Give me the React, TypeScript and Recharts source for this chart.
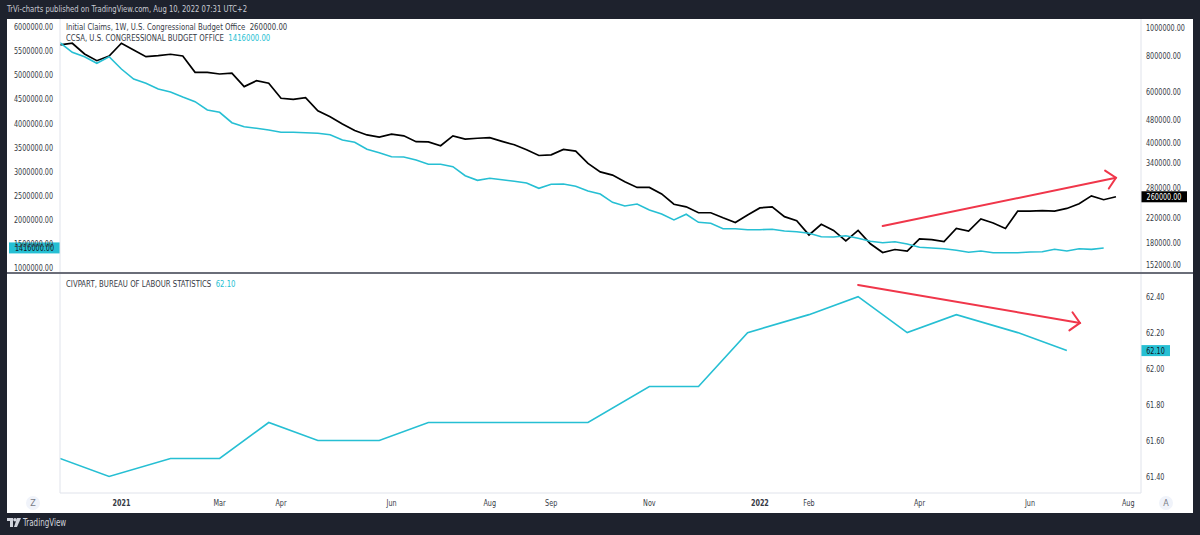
import { LineChart, Line, XAxis, YAxis, ReferenceLine } from "recharts";

const FONT = "'DejaVu Sans', sans-serif";
const SX = 0.68;
const BG = "#1e222d";
const CYAN = "#26bfd3";
const RED = "#f0364a";
const TEXT = "#363a45";

// x = weekly bar index, 0 = week of 2021-01-04 (bars start on Monday)
const START = Date.UTC(2021, 0, 4);
const WEEK = 7 * 86400000;
function weekIdx(d: string) {
  const [y, m, dd] = d.split("-").map(Number);
  return Math.floor((Date.UTC(y, m - 1, dd) - START) / WEEK);
}

const claimsStart = "2020-11-30";
const claimsValues = [
  869000, 881000, 809000, 767000, 796000, 881000, 835000, 792000, 798000, 807000,
  796000, 699000, 699000, 690000, 695000, 624000, 654000, 641000, 569000, 564000,
  572000, 515000, 491000, 464000, 440000, 425000, 418000, 428000, 422000, 403000,
  402000, 390000, 422000, 411000, 414000, 416000, 404000, 393000, 378000, 361000,
  363000, 379000, 374000, 339000, 317000, 309000, 293000, 280000, 280000, 266000,
  245000, 240000, 229000, 229000, 220000, 212000, 225000, 238000, 240000, 222000,
  215000, 192000, 209000, 199000, 183000, 199000, 179000, 167000, 171000, 169000,
  186000, 185000, 182000, 202000, 198000, 218000, 211000, 202000, 232000, 232000,
  233000, 232000, 237000, 246000, 262000, 254000, 260000,
];

const ccsaStart = "2020-11-30";
const ccsaValues = [
  5668000, 5469000, 5378000, 5242000, 5378000, 5123000, 4916000, 4827000, 4709000, 4647000,
  4543000, 4446000, 4274000, 4226000, 4011000, 3928000, 3895000, 3859000, 3812000, 3812000,
  3804000, 3791000, 3762000, 3652000, 3605000, 3460000, 3389000, 3306000, 3300000, 3238000,
  3149000, 3149000, 3099000, 2913000, 2817000, 2859000, 2830000, 2797000, 2761000, 2651000,
  2734000, 2741000, 2693000, 2596000, 2533000, 2361000, 2285000, 2326000, 2202000, 2119000,
  1995000, 2113000, 1947000, 1926000, 1814000, 1814000, 1794000, 1794000, 1802000, 1767000,
  1752000, 1719000, 1649000, 1642000, 1669000, 1615000, 1553000, 1524000, 1545000, 1497000,
  1429000, 1414000, 1400000, 1367000, 1325000, 1352000, 1317000, 1317000, 1317000, 1332000,
  1338000, 1387000, 1352000, 1400000, 1387000, 1416000,
];

const civpartMonths = [
  "2020-12-01", "2021-01-01", "2021-02-01", "2021-03-01", "2021-04-01", "2021-05-01",
  "2021-06-01", "2021-07-01", "2021-08-01", "2021-09-01", "2021-10-01", "2021-11-01",
  "2021-12-01", "2022-01-01", "2022-02-01", "2022-03-01", "2022-04-01", "2022-05-01",
  "2022-06-01", "2022-07-01",
];
const civpartValues = [
  61.5, 61.4, 61.5, 61.5, 61.7, 61.6, 61.6, 61.7, 61.7, 61.7, 61.7, 61.9, 61.9, 62.2,
  62.3, 62.4, 62.2, 62.3, 62.2, 62.1,
];

const tickDates = [
  "2021-01-04", "2021-03-01", "2021-04-05", "2021-06-07", "2021-08-02", "2021-09-06",
  "2021-11-01", "2022-01-03", "2022-01-31", "2022-04-04", "2022-06-06", "2022-08-01",
];
const tickLabels = ["2021", "Mar", "Apr", "Jun", "Aug", "Sep", "Nov", "2022", "Feb", "Apr", "Jun", "Aug"];

const claimsTicks = [152000, 180000, 220000, 280000, 340000, 400000, 480000, 600000, 800000, 1000000];
const ccsaTicks = [1000000, 1500000, 2000000, 2500000, 3000000, 3500000, 4000000, 4500000, 5000000, 5500000, 6000000];
const civpartTicks = [61.4, 61.6, 61.8, 62.0, 62.2, 62.4];

// drawn arrows (annotations): [week index, value]
const upArrow = [[62, 206000], [81, 302600]];
const downArrow = [[60, 62.465], [78.07, 62.254]];

const claimsData = claimsValues.map((v, k) => ({ i: weekIdx(claimsStart) + k, v }));
const ccsaData = ccsaValues.map((v, k) => ({ i: weekIdx(ccsaStart) + k, v }));
const civpartData = civpartMonths.map((d, k) => ({ i: weekIdx(d), v: civpartValues[k] }));
const xTicks = tickDates.map(weekIdx);
const X_DOMAIN = [-5, 83.04];

function ValueTick(props: any) {
  const { x, y, payload, textAnchor } = props;
  return (
    <g transform={`translate(${x},${y}) scale(${SX},1)`}>
      <text x={0} y={0} dy="0.35em" textAnchor={textAnchor} fontSize={9.5} fill={TEXT} fontFamily={FONT}>
        {Number(payload.value).toFixed(2)}
      </text>
    </g>
  );
}

function TimeTick(props: any) {
  const { x, y, payload } = props;
  const k = xTicks.indexOf(payload.value);
  const label = tickLabels[k] ?? "";
  const year = /^\d{4}$/.test(label);
  return (
    <g transform={`translate(${x},${y}) scale(${SX},1)`}>
      <text x={0} y={0} dy="0.35em" textAnchor="middle" fontSize={9.5} fill={TEXT} fontFamily={FONT} fontWeight={year ? 700 : 400}>
        {label}
      </text>
    </g>
  );
}

function PriceBox(props: any) {
  const { viewBox, side, text, fill, color, w } = props;
  if (!viewBox) return null;
  const y = viewBox.y;
  const x = side === "left" ? viewBox.x - w : viewBox.x + viewBox.width;
  return (
    <g>
      <rect x={x} y={y - 5.5} width={w} height={11} fill={fill} />
      <g transform={`translate(${x + w / 2},${y}) scale(${SX},1)`}>
        <text x={0} y={0} dy="0.35em" textAnchor="middle" fontSize={9.5} fill={color} fontFamily={FONT}>
          {text}
        </text>
      </g>
    </g>
  );
}

function Arrow(props: any) {
  const { x1, y1, x2, y2 } = props;
  const a = Math.atan2(y2 - y1, x2 - x1);
  const L = 13;
  const p1 = [x2 - L * Math.cos(a - Math.PI / 4), y2 - L * Math.sin(a - Math.PI / 4)];
  const p2 = [x2 - L * Math.cos(a + Math.PI / 4), y2 - L * Math.sin(a + Math.PI / 4)];
  return (
    <g stroke={RED} strokeWidth={2} fill="none" strokeLinecap="round">
      <line x1={x1} y1={y1} x2={x2} y2={y2} />
      <polyline points={`${p1[0]},${p1[1]} ${x2},${y2} ${p2[0]},${p2[1]}`} />
    </g>
  );
}

function Txt({ x, y, size = 9.5, color = TEXT, children, weight, sx = SX }: any) {
  const lh = size + 3;
  return (
    <div
      style={{
        position: "absolute",
        left: x,
        top: y - lh / 2,
        fontSize: size,
        lineHeight: `${lh}px`,
        color,
        whiteSpace: "nowrap",
        transform: `scaleX(${sx})`,
        transformOrigin: "0 50%",
        fontWeight: weight,
        fontFamily: FONT,
      }}
    >
      {children}
    </div>
  );
}

function Circle({ x, y, letter }: any) {
  return (
    <svg style={{ position: "absolute", left: x - 8, top: y - 8 }} width={16} height={16}>
      <circle cx={8} cy={8} r={7} fill="#f0f3fa" />
      <text x={8} y={8} dy="0.35em" textAnchor="middle" fontSize={8} fill="#787b86" fontFamily={FONT}>
        {letter}
      </text>
    </svg>
  );
}

export default function App() {
  const lastClaims = claimsValues[claimsValues.length - 1];
  const lastCcsa = ccsaValues[ccsaValues.length - 1];
  const lastCiv = civpartValues[civpartValues.length - 1];
  return (
    <div style={{ position: "fixed", left: 0, top: 0, width: 1200, height: 535, background: BG, overflow: "hidden" }}>
      <Txt x={7} y={9} color="#c9ccd4" sx={0.72}>TrVi-charts published on TradingView.com, Aug 10, 2022 07:31 UTC+2</Txt>
      <div style={{ position: "absolute", left: 7, top: 19, width: 1186, height: 494, background: "#fff" }} />

      <div style={{ position: "absolute", left: 7, top: 19 }}>
        <LineChart width={1186} height={254} margin={{ top: 0, right: 0, bottom: 0, left: 0 }}>
          <XAxis type="number" dataKey="i" domain={X_DOMAIN} allowDataOverflow hide />
          <YAxis
            yAxisId="left"
            orientation="left"
            width={53}
            domain={[896400, 6159500]}
            allowDataOverflow
            ticks={ccsaTicks}
            interval={0}
            tick={<ValueTick />}
            tickSize={0}
            tickMargin={7}
            axisLine={{ stroke: "#e0e3eb" }}
          />
          <YAxis
            yAxisId="right"
            orientation="right"
            width={52}
            scale="log"
            domain={[141870, 1068200]}
            allowDataOverflow
            ticks={claimsTicks}
            interval={0}
            tick={<ValueTick />}
            tickSize={0}
            tickMargin={5}
            axisLine={{ stroke: "#e0e3eb" }}
          />
          <Line yAxisId="right" data={claimsData} dataKey="v" type="linear" stroke="#000" strokeWidth={1.7} dot={false} isAnimationActive={false} />
          <Line yAxisId="left" data={ccsaData} dataKey="v" type="linear" stroke={CYAN} strokeWidth={1.6} dot={false} isAnimationActive={false} />
          <ReferenceLine
            yAxisId="right"
            segment={[{ x: upArrow[0][0], y: upArrow[0][1] }, { x: upArrow[1][0], y: upArrow[1][1] }]}
            shape={Arrow}
          />
          <ReferenceLine
            yAxisId="left"
            y={lastCcsa}
            stroke="none"
            label={<PriceBox side="left" w={51} fill={CYAN} color="#131722" text={lastCcsa.toFixed(2)} />}
          />
          <ReferenceLine
            yAxisId="right"
            y={lastClaims}
            stroke="none"
            label={<PriceBox side="right" w={46} fill="#000" color="#fff" text={lastClaims.toFixed(2)} />}
          />
        </LineChart>
      </div>

      <div style={{ position: "absolute", left: 7, top: 274 }}>
        <LineChart width={1186} height={239} margin={{ top: 0, right: 0, bottom: 0, left: 0 }}>
          <XAxis
            type="number"
            dataKey="i"
            domain={X_DOMAIN}
            allowDataOverflow
            ticks={xTicks}
            interval={0}
            tick={<TimeTick />}
            tickSize={0}
            tickMargin={10}
            height={20}
            axisLine={{ stroke: "#e0e3eb" }}
          />
          <YAxis yAxisId="left" orientation="left" width={53} tick={false} axisLine={{ stroke: "#e0e3eb" }} />
          <YAxis
            yAxisId="right"
            orientation="right"
            width={52}
            domain={[61.308, 62.526]}
            allowDataOverflow
            ticks={civpartTicks}
            interval={0}
            tick={<ValueTick />}
            tickSize={0}
            tickMargin={5}
            axisLine={{ stroke: "#e0e3eb" }}
          />
          <Line yAxisId="right" data={civpartData} dataKey="v" type="linear" stroke={CYAN} strokeWidth={1.6} dot={false} isAnimationActive={false} />
          <ReferenceLine
            yAxisId="right"
            segment={[{ x: downArrow[0][0], y: downArrow[0][1] }, { x: downArrow[1][0], y: downArrow[1][1] }]}
            shape={Arrow}
          />
          <ReferenceLine
            yAxisId="right"
            y={lastCiv}
            stroke="none"
            label={<PriceBox side="right" w={29} fill={CYAN} color="#131722" text={lastCiv.toFixed(2)} />}
          />
        </LineChart>
      </div>

      <div style={{ position: "absolute", left: 7, top: 272, width: 1186, height: 2, background: "#6a6d78" }} />

      <Txt x={66} y={27} sx={0.73}>
        Initial Claims, 1W, U.S. Congressional Budget Office&nbsp;&nbsp;{lastClaims.toFixed(2)}
      </Txt>
      <Txt x={66} y={38} sx={0.73}>
        CCSA, U.S. CONGRESSIONAL BUDGET OFFICE&nbsp;&nbsp;<span style={{ color: CYAN }}>{lastCcsa.toFixed(2)}</span>
      </Txt>
      <Txt x={66} y={284} sx={0.73}>
        CIVPART, BUREAU OF LABOUR STATISTICS&nbsp;&nbsp;<span style={{ color: CYAN }}>{lastCiv.toFixed(2)}</span>
      </Txt>

      <Circle x={33} y={503} letter="Z" />
      <Circle x={1166} y={503} letter="A" />

      <svg style={{ position: "absolute", left: 7, top: 518 }} width={14} height={10}>
        <path d="M0 0 H6 V9 H3 V3 H0 Z" fill="#d1d4dc" />
        <circle cx={8} cy={1.8} r={1.8} fill="#d1d4dc" />
        <path d="M10 0 H14 L10 9 H7 Z" fill="#d1d4dc" />
      </svg>
      <Txt x={23} y={523} size={10.5} color="#d1d4dc">TradingView</Txt>
    </div>
  );
}
